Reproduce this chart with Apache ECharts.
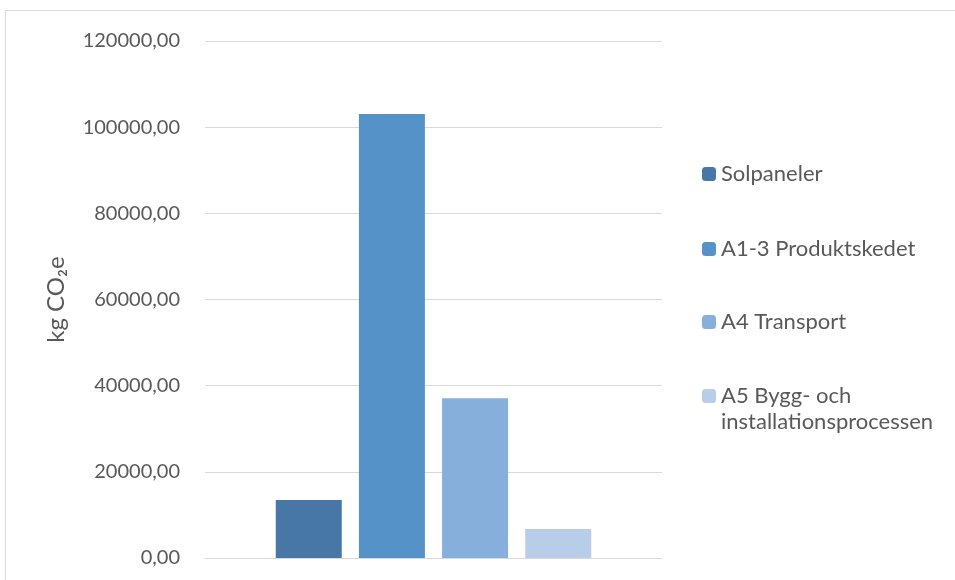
<!DOCTYPE html>
<html>
<head>
<meta charset="utf-8">
<script src="https://cdn.jsdelivr.net/npm/echarts@6/dist/echarts.min.js"></script>
<style>
  html, body { margin: 0; padding: 0; background: #fff; }
  #wrap { position: relative; width: 955px; height: 580px; overflow: hidden; }
  #chart { width: 955px; height: 580px; }
  #frame { position: absolute; left: 5px; top: 10px; width: 960px; height: 600px; border: 1px solid #d9d9d9; pointer-events: none; }
</style>
</head>
<body>
<div id="wrap">
  <div id="chart"></div>
  <div id="frame"></div>
</div>
<script>
// data
const categories = ['']
const seriesNames = ['Solpaneler', 'A1-3 Produktskedet', 'A4 Transport', 'A5 Bygg- och installationsprocessen']
const seriesValues = [13450, 103050, 37100, 6750]
const colors = ['#4677a6', '#5592c8', '#86afdc', '#b7cde8']
const yTicks = { min: 0, max: 120000, interval: 20000 }

const textColor = '#595959'
const font = 'Lato, "Open Sans", sans-serif'

const chartDom = echarts.init(document.getElementById('chart'))

// one legend per item so the vertical spacing matches
const legendTops = [161, 236, 309, 357]
const legends = seriesNames.map((name, i) => {
  const last = i === seriesNames.length - 1
  return {
    data: [name],
    left: 702,
    top: legendTops[i],
    padding: 0,
    itemWidth: 14,
    itemHeight: 14,
    selectedMode: false,
    // empty first line keeps the icon next to the first text line
    formatter: (n) => (last ? '\nA5 Bygg- och\ninstallationsprocessen' : n),
    textStyle: {
      color: textColor,
      fontSize: 22,
      fontFamily: font,
      lineHeight: 26,
    },
  }
})

const option = {
  animation: false,
  color: colors,
  legend: legends,
  grid: {
    left: 205,
    right: 293,
    top: 41,
    bottom: 22,
  },
  xAxis: {
    type: 'category',
    data: categories,
    axisTick: { show: false },
    axisLabel: { show: false },
    axisLine: { lineStyle: { color: '#d9d9d9', width: 1 } },
  },
  yAxis: {
    type: 'value',
    min: yTicks.min,
    max: yTicks.max,
    interval: yTicks.interval,
    name: 'kg CO₂e',
    nameLocation: 'middle',
    nameGap: 137,
    nameRotate: 90,
    nameTextStyle: {
      color: textColor,
      fontSize: 24,
      fontFamily: font,
    },
    axisLine: { show: false },
    axisTick: { show: false },
    axisLabel: {
      color: textColor,
      fontSize: 20,
      fontFamily: font,
      margin: 25,
      formatter: (v) => v.toFixed(2).replace('.', ','),
    },
    splitLine: { lineStyle: { color: '#d9d9d9', width: 1 } },
  },
  series: seriesNames.map((name, i) => ({
    name: name,
    type: 'bar',
    data: [seriesValues[i]],
    barWidth: 66,
    barGap: '26%',
  })),
}

chartDom.setOption(option)
</script>
</body>
</html>
